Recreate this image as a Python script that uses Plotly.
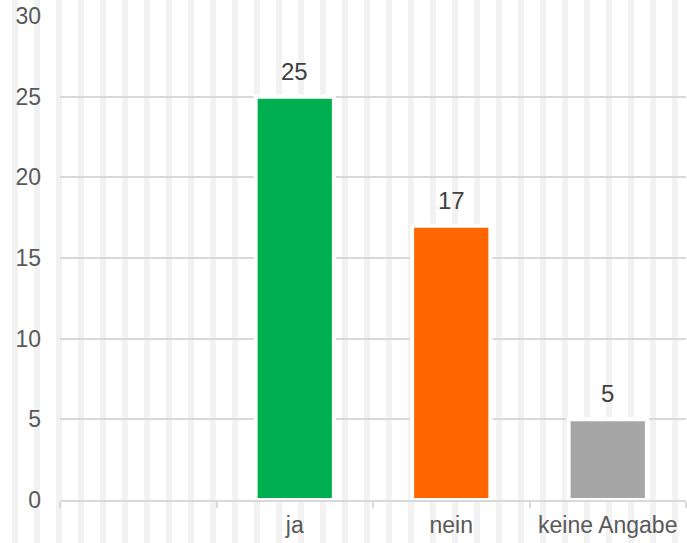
import plotly.graph_objects as go

categories = [" ", "ja", "nein", "keine Angabe"]
values = [None, 25, 17, 5]
bar_colors = ["#ffffff", "#00b050", "#ff6600", "#a6a6a6"]
y_ticks = [0, 5, 10, 15, 20, 25, 30]

W, H = 687, 543
ML, MR, MT, MB = 60, 1, 16, 43

fig = go.Figure()
fig.add_trace(go.Bar(
    x=categories, y=values,
    marker=dict(color=bar_colors, line=dict(color="white", width=4)),
    width=0.5, hoverinfo="skip", showlegend=False, cliponaxis=False,
))

# data labels
for c, v in zip(categories, values):
    if v is None:
        continue
    fig.add_annotation(x=c, y=v, text=str(v), showarrow=False, yanchor="bottom",
                       yshift=10, font=dict(family="Liberation Sans, Arial", size=24, color="#404040"))

# background stripes (decoration)
pw = W - ML - MR
ph = H - MT - MB
shapes = []
px = 12
while px < W:
    x0 = (px - ML) / pw
    x1 = (px + 6 - ML) / pw
    shapes.append(dict(type="rect", xref="paper", yref="paper", x0=x0, x1=x1,
                       y0=-MB / ph, y1=1 + MT / ph, fillcolor="#f2f2f2",
                       line=dict(width=0), layer="below"))
    px += 22

fig.update_layout(
    width=W, height=H,
    margin=dict(l=ML, r=MR, t=MT, b=MB, autoexpand=False),
    paper_bgcolor="white", plot_bgcolor="rgba(0,0,0,0)",
    font=dict(family="Liberation Sans, Arial", size=23, color="#595959"),
    shapes=shapes,
    bargap=0.5,
    xaxis=dict(type="category", categoryorder="array", categoryarray=categories,
               range=[-0.5, 3.5], tickson="boundaries", ticks="outside", ticklen=6,
               tickcolor="#d9d9d9", tickwidth=1.5, showline=True, linecolor="#d9d9d9",
               linewidth=1.5, showgrid=False, zeroline=False, fixedrange=True,
               automargin=False, ticklabelstandoff=4),
    yaxis=dict(range=[0, 30], tickvals=y_ticks, showgrid=True, gridcolor="#d9d9d9",
               gridwidth=1.5, zeroline=False, showline=False, ticks="",
               ticklabelstandoff=18, fixedrange=True, automargin=False),
)

fig.write_html("out.html", config={"displayModeBar": False},
               post_script="document.body.style.margin='0';document.body.style.overflow='hidden';")
